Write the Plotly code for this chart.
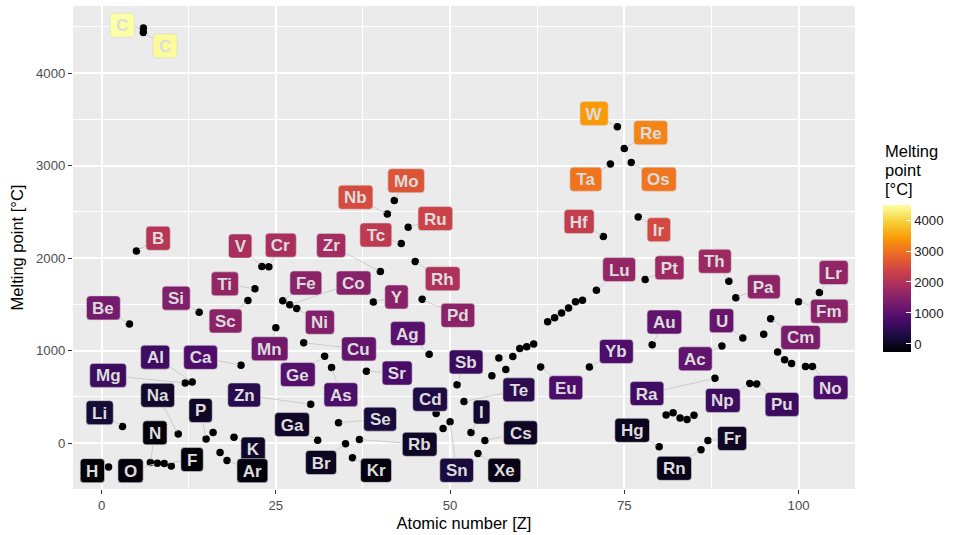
import plotly.graph_objects as go
import plotly.colors as pc

# ---------------- data ----------------
atomic_number = [1, 3, 4, 5, 6, 6, 7, 8, 9, 10, 11, 12, 13, 14, 15, 16, 17, 18, 19, 20,
                 21, 22, 23, 24, 25, 26, 27, 28, 29, 30, 31, 32, 33, 34, 35, 36, 37, 38, 39, 40,
                 41, 42, 43, 44, 45, 46, 47, 48, 49, 50, 51, 52, 53, 54, 55, 56, 57, 58, 59, 60,
                 61, 62, 63, 64, 65, 66, 67, 68, 69, 70, 71, 72, 73, 74, 75, 76, 77, 78, 79, 80,
                 81, 82, 83, 84, 85, 86, 87, 88, 89, 90, 91, 92, 93, 94, 95, 96, 97, 98, 99, 100,
                 101, 102, 103]
symbol = ["H", "Li", "Be", "B", "C", "C", "N", "O", "F", "Ne", "Na", "Mg", "Al", "Si", "P", "S", "Cl", "Ar", "K", "Ca",
          "Sc", "Ti", "V", "Cr", "Mn", "Fe", "Co", "Ni", "Cu", "Zn", "Ga", "Ge", "As", "Se", "Br", "Kr", "Rb", "Sr", "Y", "Zr",
          "Nb", "Mo", "Tc", "Ru", "Rh", "Pd", "Ag", "Cd", "In", "Sn", "Sb", "Te", "I", "Xe", "Cs", "Ba", "La", "Ce", "Pr", "Nd",
          "Pm", "Sm", "Eu", "Gd", "Tb", "Dy", "Ho", "Er", "Tm", "Yb", "Lu", "Hf", "Ta", "W", "Re", "Os", "Ir", "Pt", "Au", "Hg",
          "Tl", "Pb", "Bi", "Po", "At", "Rn", "Fr", "Ra", "Ac", "Th", "Pa", "U", "Np", "Pu", "Am", "Cm", "Bk", "Cf", "Es", "Fm",
          "Md", "No", "Lr"]
melting_point = [-259.1, 180.5, 1287, 2076, 4489, 4440, -210, -218, -220, -248.6, 97.8, 650, 660.3, 1414, 44.2, 115.2, -101.5, -189.3, 63.5, 842,
                 1541, 1668, 1910, 1907, 1246, 1538, 1495, 1455, 1085, 419.5, 29.8, 938.3, 817, 221, -7.2, -157.4, 39.3, 777, 1526, 1855,
                 2477, 2623, 2157, 2334, 1964, 1555, 961.8, 321.1, 156.6, 231.9, 630.6, 449.5, 113.7, -111.8, 28.4, 727, 920, 795, 935, 1024,
                 1042, 1072, 822, 1312, 1356, 1407, 1461, 1529, 1545, 824, 1652, 2233, 3017, 3422, 3186, 3033, 2446, 1768, 1064, -38.8,
                 304, 327.5, 271.4, 254, 302, -71, 27, 700, 1050, 1750, 1572, 1135, 644, 640, 1176, 1345, 986, 900, 860, 1527,
                 827, 827, 1627]

# repelled label placement (data units)
label_symbol = ["C", "C", "B", "V", "Ti", "Si", "Sc", "Be", "Mo", "Nb", "Ru", "Tc", "Cr", "Zr", "Fe", "Co", "Rh", "Y", "Pd", "Ni",
                "Ag", "Ta", "Os", "Hf", "Ir", "Lu", "Pt", "Au", "Th", "Pa", "Lr", "Fm", "U", "Cm", "Al", "Ca", "Mg", "Na", "Zn", "P",
                "Li", "N", "K", "F", "H", "O", "Ar", "Mn", "Cu", "Ge", "Sr", "As", "Cd", "Sb", "Ga", "Se", "Rb", "Br", "Kr", "Sn",
                "Yb", "Te", "Eu", "Ra", "I", "Cs", "Hg", "Xe", "Ac", "Np", "Pu", "No", "Fr", "Rn", "W", "Re"]
label_x = [2.96, 9.12, 8.11, 19.89, 17.69, 10.70, 17.79, 0.26, 43.70, 36.44, 47.89, 39.35, 25.72, 32.94, 29.31, 36.16, 48.94, 42.32, 51.12, 31.32,
           43.95, 69.48, 79.96, 68.52, 79.96, 74.26, 81.48, 80.75, 87.99, 95.02, 105.04, 104.42, 88.95, 100.29, 7.69, 14.20, 0.93, 8.05, 20.46, 14.20,
           -0.27, 7.65, 21.74, 12.98, -1.32, 4.16, 21.64, 24.12, 36.92, 28.16, 42.41, 34.33, 47.13, 52.30, 27.33, 39.96, 45.64, 31.49, 39.38, 50.95,
           73.86, 59.87, 66.61, 78.25, 54.52, 60.11, 76.13, 57.79, 85.19, 89.14, 97.63, 104.60, 90.47, 82.15, 70.66, 78.78]
label_y = [4519, 4295, 2215, 2131, 1722, 1567, 1320, 1462, 2837, 2659, 2428, 2250, 2140, 2137, 1731, 1731, 1777, 1580, 1381, 1306,
           1184, 2854, 2854, 2395, 2307, 1876, 1896, 1309, 1966, 1690, 1844, 1426, 1324, 1142, 929, 927, 732, 517, 520, 353,
           329, 111, -65, -178, -298, -298, -298, 1020, 1018, 741, 757, 523, 474, 877, 200, 259, -13, -210, -295, -295,
           991, 576, 598, 536, 335, 111, 138, -295, 911, 461, 418, 601, 50, -273, 3564, 3356]

x_ticks = [0, 25, 50, 75, 100]
y_ticks = [0, 1000, 2000, 3000, 4000]
cbar_ticks = [0, 1000, 2000, 3000, 4000]
cbar_title_lines = ["Melting", "point", "[°C]"]

# ---------------- styling ----------------
W, H = 959, 535
ML, MR, MT, MB = 73, 104, 6, 44
LABEL_FONT = 17
CHAR_W = {'A': .722, 'B': .722, 'C': .722, 'D': .722, 'E': .667, 'F': .611, 'G': .778, 'H': .722, 'I': .278,
          'K': .722, 'L': .611, 'M': .833, 'N': .722, 'O': .778, 'P': .667, 'R': .722, 'S': .667, 'T': .611,
          'U': .722, 'V': .667, 'W': .944, 'X': .667, 'Y': .667, 'Z': .611, 'a': .556, 'b': .611, 'c': .556,
          'd': .611, 'e': .556, 'f': .333, 'g': .611, 'h': .611, 'i': .278, 'l': .278, 'm': .889, 'n': .611,
          'o': .611, 'p': .611, 'r': .389, 's': .556, 't': .333, 'u': .611}

vmin, vmax = min(melting_point), max(melting_point)
xspan = max(atomic_number) - min(atomic_number)
yspan = vmax - vmin
xr = [min(atomic_number) - 0.05 * xspan, max(atomic_number) + 0.05 * xspan]
yr = [vmin - 0.05 * yspan, vmax + 0.05 * yspan]
pw, ph = W - ML - MR, H - MT - MB


def to_px(x, y):
    return (ML + (x - xr[0]) / (xr[1] - xr[0]) * pw, MT + (yr[1] - y) / (yr[1] - yr[0]) * ph)


def round_rect(w, h, r):
    a, b = w / 2, h / 2
    return ("M %.2f,%.2f L %.2f,%.2f Q %.2f,%.2f %.2f,%.2f L %.2f,%.2f Q %.2f,%.2f %.2f,%.2f "
            "L %.2f,%.2f Q %.2f,%.2f %.2f,%.2f L %.2f,%.2f Q %.2f,%.2f %.2f,%.2f Z") % (
        -a + r, -b, a - r, -b, a, -b, a, -b + r, a, b - r, a, b, a - r, b,
        -a + r, b, -a, b, -a, b - r, -a, -b + r, -a, -b, -a + r, -b)


fig = go.Figure()

# points
fig.add_trace(go.Scatter(x=atomic_number, y=melting_point, mode="markers",
                         marker=dict(color="black", size=7.5), hoverinfo="skip", showlegend=False))

# colour bar carrier (bottom offset compensates plotly's container placement)
CB_LEFT, CB_BOTTOM, CB_LEN = 883, 354.3 + 35.5, 147
fig.add_trace(go.Scatter(
    x=[None], y=[None], mode="markers", showlegend=False, hoverinfo="skip",
    marker=dict(color=[vmin], cmin=vmin, cmax=vmax, colorscale="Inferno", showscale=True,
                colorbar=dict(xref="container", x=CB_LEFT / W, xanchor="left", xpad=0,
                              yref="container", y=(H - CB_BOTTOM) / H, yanchor="bottom", ypad=0,
                              lenmode="pixels", len=CB_LEN, thicknessmode="pixels", thickness=28,
                              outlinewidth=0, tickvals=cbar_ticks, ticks="inside", ticklen=5,
                              tickcolor="white", tickwidth=1,
                              tickfont=dict(size=13.2, color="#1a1a1a")))))

# labels
used = set()
annotations = []
shapes = []
for sym, lx, ly in zip(label_symbol, label_x, label_y):
    idx = next(i for i, s in enumerate(symbol) if s == sym and i not in used)
    used.add(idx)
    px, py = atomic_number[idx], melting_point[idx]
    t = (py - vmin) / (vmax - vmin)
    fill = pc.sample_colorscale("Inferno", [t])[0]
    tw = sum(CHAR_W.get(ch, 0.6) for ch in sym) * LABEL_FONT
    bw, bh = tw + 12, 24
    cx, cy = to_px(lx, ly)
    qx, qy = to_px(px, py)
    dx = max(abs(qx - cx) - bw / 2, 0)
    dy = max(abs(qy - cy) - bh / 2, 0)
    show_seg = (dx * dx + dy * dy) ** 0.5 > 7
    shapes.append(dict(type="path", layer="above", xref="x", yref="y", xsizemode="pixel",
                       ysizemode="pixel", xanchor=lx, yanchor=ly, path=round_rect(bw, bh, 3.5),
                       fillcolor=fill, line=dict(color="#d4d4d4", width=0.6)))
    common = dict(text="<b>%s</b>" % sym, font=dict(size=LABEL_FONT, color="#dcdcdc",
                                                   family="Liberation Sans, Arial"),
                  bgcolor="rgba(0,0,0,0)", borderwidth=0, borderpad=0,
                  width=bw, height=bh, align="center", valign="middle")
    if show_seg:
        annotations.append(dict(x=px, y=py, xref="x", yref="y", ax=lx, ay=ly, axref="x", ayref="y",
                                showarrow=True, arrowhead=0, arrowwidth=1, arrowcolor="#cccccc",
                                standoff=3, **common))
    else:
        annotations.append(dict(x=lx, y=ly, xref="x", yref="y", showarrow=False, **common))

# colour bar title (one annotation per line, ggplot-like line spacing)
for k, line in enumerate(cbar_title_lines):
    ypx = 152 + 19 * k
    annotations.append(dict(text=line, xref="paper", yref="paper",
                            x=(CB_LEFT - ML) / pw, y=(MT + ph - ypx) / ph,
                            xanchor="left", yanchor="middle", showarrow=False,
                            font=dict(size=16.5, color="black")))

fig.update_layout(
    width=W, height=H, autosize=False,
    margin=dict(l=ML, r=MR, t=MT, b=MB),
    plot_bgcolor="#EBEBEB", paper_bgcolor="white",
    font=dict(family="Liberation Sans, Arial", color="black"),
    annotations=annotations, shapes=shapes, showlegend=False,
    xaxis=dict(range=xr, tickvals=x_ticks, showgrid=True, gridcolor="white", gridwidth=1.6,
               zeroline=False, showline=False, ticks="outside", ticklen=4, tickcolor="#333333",
               tickfont=dict(size=13.2, color="#4d4d4d"),
               minor=dict(dtick=12.5, tick0=0, showgrid=True, gridcolor="white", gridwidth=0.8),
               title=dict(text="Atomic number [Z]", font=dict(size=16.5, color="black"), standoff=5)),
    yaxis=dict(range=yr, tickvals=y_ticks, showgrid=True, gridcolor="white", gridwidth=1.6,
               zeroline=False, showline=False, ticks="outside", ticklen=4, tickcolor="#333333",
               tickfont=dict(size=13.2, color="#4d4d4d"),
               minor=dict(dtick=500, tick0=0, showgrid=True, gridcolor="white", gridwidth=0.8),
               title=dict(text="Melting point [°C]", font=dict(size=16.5, color="black"), standoff=8)),
)

fig.write_html("out.html")
